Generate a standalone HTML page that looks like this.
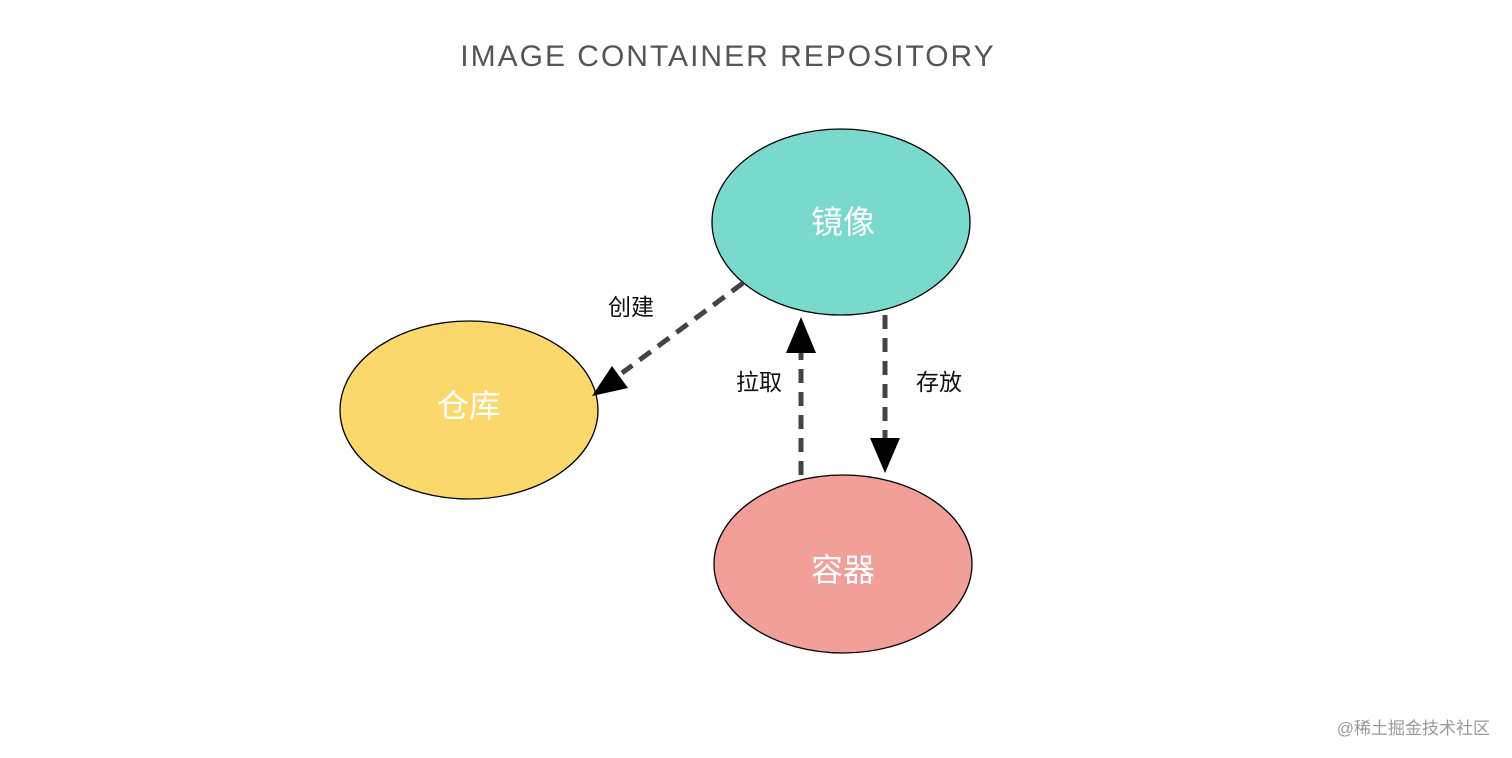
<!DOCTYPE html>
<html><head><meta charset="utf-8"><style>
html,body{margin:0;padding:0;background:#fff;width:1512px;height:758px;overflow:hidden}
</style></head><body>
<svg width="1512" height="758" viewBox="0 0 1512 758" xmlns="http://www.w3.org/2000/svg">
<text x="728" y="66" text-anchor="middle" font-family="Liberation Sans, sans-serif" font-size="30" letter-spacing="2" fill="#555" font-weight="normal">IMAGE CONTAINER REPOSITORY</text>
<ellipse cx="841" cy="222" rx="129" ry="93" fill="#79d9cd" stroke="#000" stroke-width="1.3"/>
<ellipse cx="469" cy="410" rx="129" ry="89" fill="#fad86b" stroke="#000" stroke-width="1.3"/>
<ellipse cx="843" cy="564" rx="129" ry="89" fill="#f29e99" stroke="#000" stroke-width="1.3"/>
<g font-family="Liberation Sans, 'Noto Sans CJK SC', sans-serif" font-size="32" fill="#fff" text-anchor="middle">
<text x="843" y="233">镜像</text>
<text x="469" y="417">仓库</text>
<text x="843" y="581">容器</text>
</g>
<g stroke="#444" stroke-width="5" stroke-dasharray="14,9" fill="none">
<line x1="743" y1="283" x2="622" y2="373"/>
<line x1="801" y1="475" x2="801" y2="352"/>
<line x1="885" y1="315" x2="885" y2="438"/>
</g>
<g fill="#000">
<polygon points="592,396 612,366 628,388"/>
<polygon points="801,317 786,353 816,353"/>
<polygon points="885,473 870,438 900,438"/>
</g>
<g font-family="Liberation Sans, 'Noto Sans CJK SC', sans-serif" font-size="23" fill="#111">
<text x="608" y="315">创建</text>
<text x="736" y="390">拉取</text>
<text x="916" y="390">存放</text>
</g>
<text x="1490" y="734" text-anchor="end" font-family="Liberation Sans, 'Noto Sans CJK SC', sans-serif" font-size="17" fill="#999">@稀土掘金技术社区</text>
</svg>
</body></html>
